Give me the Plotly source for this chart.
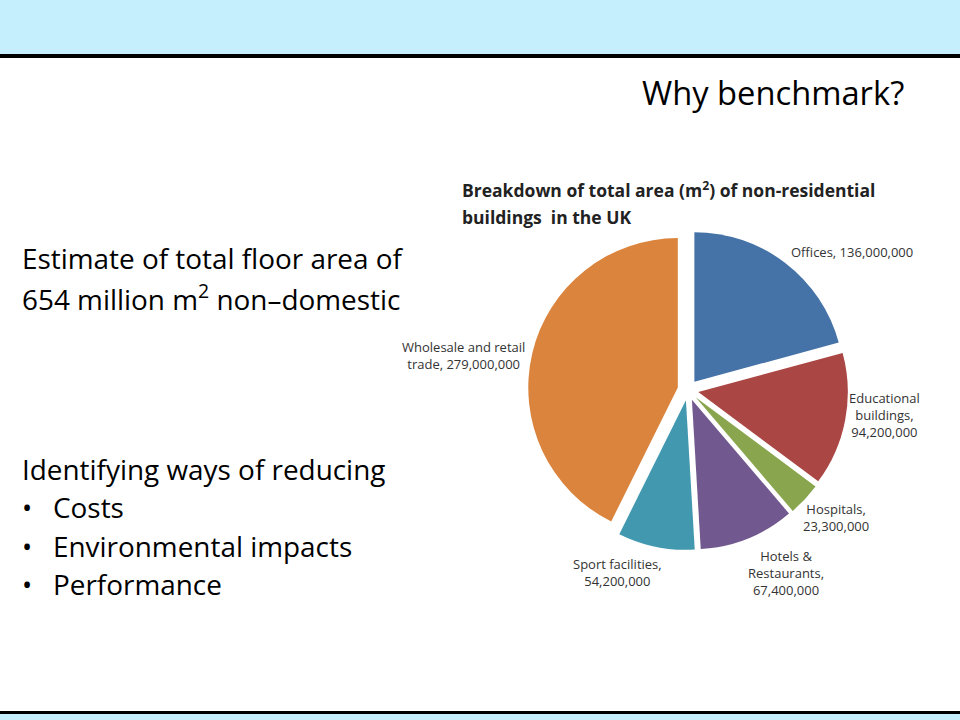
import plotly.graph_objects as go

# ---- data ----
categories = ["Offices", "Educational buildings", "Hospitals", "Hotels & Restaurants",
              "Sport facilities", "Wholesale and retail trade"]
values = [136000000, 94200000, 23300000, 67400000, 54200000, 279000000]
label_lines = [["Offices, 136,000,000"],
               ["Educational", "buildings,", "94,200,000"],
               ["Hospitals,", "23,300,000"],
               ["Hotels &", "Restaurants,", "67,400,000"],
               ["Sport facilities,", "54,200,000"],
               ["Wholesale and retail", "trade, 279,000,000"]]

# ---- layout helpers (pixel -> paper) ----
W, H = 960, 720
def px(x): return x / W
def py(y): return 1 - y / H

colors = ["#4572A7", "#AA4643", "#89A54E", "#71588F", "#4198AF", "#DB843D"]
FONT = "Open Sans"

cx, cy, half = 688, 390, 160
fig = go.Figure(go.Pie(
    labels=categories, values=values, sort=False, direction="clockwise", rotation=0,
    marker=dict(colors=colors, line=dict(width=0)),
    pull=[0.07] * len(values), textinfo="none", hoverinfo="label+value",
    showlegend=False,
    domain=dict(x=[px(cx - half), px(cx + half)], y=[py(cy + half), py(cy - half)]),
))

# label anchor positions (pixel centres) for each slice
label_pos = [(852, 252), (884, 415), (836, 517), (786, 573), (617, 572), (463, 355)]
annotations = []
for lines, (lx, ly) in zip(label_lines, label_pos):
    annotations.append(dict(
        x=px(lx), y=py(ly), xref="paper", yref="paper", showarrow=False,
        text="<br>".join(lines), align="center", xanchor="center", yanchor="middle",
        font=dict(family=FONT, size=13, color="#333333")))

# slide texts
annotations.append(dict(x=px(906), y=py(93), xref="paper", yref="paper", showarrow=False,
                        text="Why benchmark?", xanchor="right", yanchor="middle",
                        font=dict(family=FONT, size=32.7, color="black")))
for y, t in [(190, "<b>Breakdown of total area (m<sup>2</sup>) of non-residential</b>"),
             (217, "<b>buildings  in the UK</b>")]:
    annotations.append(dict(x=px(460), y=py(y), xref="paper", yref="paper", showarrow=False,
                            text=t, xanchor="left", yanchor="middle", align="left",
                            font=dict(family=FONT, size=17.5, color="#222222")))
left_lines = [(258, "Estimate of total floor area of", 20),
              (297, "654 million m<sup>2</sup> non–domestic", 20),
              (469, "Identifying ways of reducing", 20),
              (507, "Costs", 51), (546, "Environmental impacts", 51), (584, "Performance", 51)]
for y, t, x in left_lines:
    annotations.append(dict(x=px(x), y=py(y), xref="paper", yref="paper", showarrow=False,
                            text=t, xanchor="left", yanchor="middle",
                            font=dict(family=FONT, size=27.9, color="black")))
for y in (507, 546, 584):
    annotations.append(dict(x=px(27), y=py(y), xref="paper", yref="paper", showarrow=False,
                            text="•", xanchor="center", yanchor="middle",
                            font=dict(family=FONT, size=27, color="black")))

shapes = [
    dict(type="rect", xref="paper", yref="paper", x0=0, x1=1, y0=py(54), y1=1,
         fillcolor="#C5EFFD", line=dict(width=0), layer="below"),
    dict(type="rect", xref="paper", yref="paper", x0=0, x1=1, y0=py(58), y1=py(54),
         fillcolor="black", line=dict(width=0)),
    dict(type="rect", xref="paper", yref="paper", x0=0, x1=1, y0=py(714), y1=py(711),
         fillcolor="black", line=dict(width=0)),
    dict(type="rect", xref="paper", yref="paper", x0=0, x1=1, y0=0, y1=py(714),
         fillcolor="#C5EFFD", line=dict(width=0), layer="below"),
]

fig.update_layout(width=W, height=H, margin=dict(l=0, r=0, t=0, b=0),
                  paper_bgcolor="white", plot_bgcolor="white",
                  annotations=annotations, shapes=shapes, font=dict(family=FONT))
fig.write_html("out.html", config={"displayModeBar": False},
               post_script="document.body.style.margin='0';document.body.style.overflow='hidden';")
